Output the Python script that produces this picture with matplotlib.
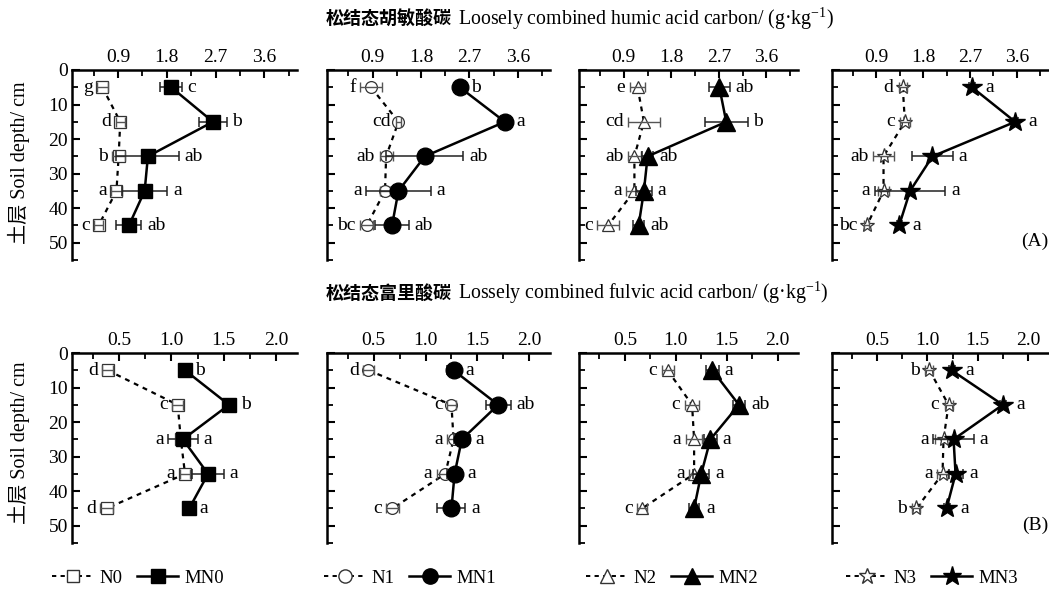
import matplotlib
matplotlib.use("Agg")
import matplotlib.pyplot as plt
from matplotlib.lines import Line2D
from matplotlib.ticker import MultipleLocator
import numpy as np

plt.rcParams['font.family'] = ['Liberation Serif', 'Noto Sans CJK SC']
plt.rcParams['mathtext.fontset'] = 'custom'
plt.rcParams['mathtext.rm'] = 'Liberation Serif'
plt.rcParams['mathtext.it'] = 'Liberation Serif:italic'

depth = [5, 15, 25, 35, 45]

# Humic acid carbon (g/kg)
N0_h = [0.61, 0.94, 0.91, 0.87, 0.54]; N0_h_err = [0.10, 0.08, 0.12, 0.10, 0.08]
MN0_h = [1.88, 2.65, 1.45, 1.39, 1.10]; MN0_h_err = [0.20, 0.25, 0.58, 0.42, 0.23]
N1_h = [0.87, 1.38, 1.15, 1.13, 0.79]; N1_h_err = [0.20, 0.05, 0.12, 0.10, 0.12]
MN1_h = [2.52, 3.36, 1.87, 1.38, 1.26]; MN1_h_err = [0.05, 0.05, 0.72, 0.60, 0.31]
N2_h = [1.16, 1.28, 1.10, 1.10, 0.60]; N2_h_err = [0.15, 0.30, 0.12, 0.15, 0.20]
MN2_h = [2.71, 2.84, 1.35, 1.28, 1.18]; MN2_h_err = [0.20, 0.41, 0.10, 0.15, 0.10]
N3_h = [1.41, 1.45, 1.04, 1.04, 0.72]; N3_h_err = [0.08, 0.10, 0.20, 0.10, 0.05]
MN3_h = [2.74, 3.57, 1.98, 1.55, 1.34]; MN3_h_err = [0.05, 0.05, 0.40, 0.68, 0.05]

# Fulvic acid carbon (g/kg)
N0_f = [0.39, 1.06, 1.09, 1.13, 0.38]; N0_f_err = [0.05, 0.05, 0.05, 0.05, 0.06]
MN0_f = [1.13, 1.55, 1.11, 1.35, 1.17]; MN0_f_err = [0.03, 0.06, 0.14, 0.15, 0.03]
N1_f = [0.45, 1.25, 1.27, 1.19, 0.68]; N1_f_err = [0.05, 0.04, 0.06, 0.08, 0.06]
MN1_f = [1.27, 1.70, 1.35, 1.28, 1.25]; MN1_f_err = [0.06, 0.12, 0.08, 0.07, 0.135]
N2_f = [0.92, 1.16, 1.18, 1.18, 0.67]; N2_f_err = [0.06, 0.07, 0.08, 0.05, 0.05]
MN2_f = [1.36, 1.62, 1.34, 1.25, 1.18]; MN2_f_err = [0.06, 0.06, 0.06, 0.08, 0.05]
N3_f = [1.02, 1.21, 1.16, 1.15, 0.89]; N3_f_err = [0.04, 0.04, 0.08, 0.05, 0.04]
MN3_f = [1.24, 1.75, 1.26, 1.28, 1.19]; MN3_f_err = [0.03, 0.03, 0.20, 0.07, 0.03]

# significance letters
N_h_let = [['g', 'd', 'b', 'a', 'c'], ['f', 'cd', 'ab', 'a', 'bc'],
           ['e', 'cd', 'ab', 'a', 'c'], ['d', 'c', 'ab', 'a', 'bc']]
MN_h_let = [['c', 'b', 'ab', 'a', 'ab'], ['b', 'a', 'ab', 'a', 'ab'],
            ['ab', 'b', 'ab', 'a', 'ab'], ['a', 'a', 'a', 'a', 'a']]
N_f_let = [['d', 'c', 'a', 'a', 'd'], ['d', 'c', 'a', 'a', 'c'],
           ['c', 'c', 'a', 'a', 'c'], ['b', 'c', 'a', 'a', 'b']]
MN_f_let = [['b', 'b', 'a', 'a', 'a'], ['a', 'ab', 'a', 'a', 'a'],
            ['a', 'ab', 'a', 'a', 'a'], ['a', 'a', 'a', 'a', 'a']]

N_names = ['N0', 'N1', 'N2', 'N3']
MN_names = ['MN0', 'MN1', 'MN2', 'MN3']
markers = ['s', 'o', '^', '*']

top_ticks = [0.9, 1.8, 2.7, 3.6]
bot_ticks = [0.5, 1.0, 1.5, 2.0]
y_ticks = [0, 10, 20, 30, 40, 50]

humic = [(N0_h, N0_h_err, MN0_h, MN0_h_err), (N1_h, N1_h_err, MN1_h, MN1_h_err),
         (N2_h, N2_h_err, MN2_h, MN2_h_err), (N3_h, N3_h_err, MN3_h, MN3_h_err)]
fulvic = [(N0_f, N0_f_err, MN0_f, MN0_f_err), (N1_f, N1_f_err, MN1_f, MN1_f_err),
          (N2_f, N2_f_err, MN2_f, MN2_f_err), (N3_f, N3_f_err, MN3_f, MN3_f_err)]

W, H = 1049, 594
fig = plt.figure(figsize=(W / 100, H / 100), dpi=100)

lefts = [72, 327, 579, 832]
widths = [225, 223, 219, 216]
tops = [70, 353]
ht = 190

nsize = [8, 8.5, 9, 11]
msize = [10.5, 12, 13, 15]
dashes = (0, (2.2, 2.2))
PT = 100 / 72.0

for row, (dataset, xlim, ticks, Nl, MNl) in enumerate([
        (humic, (0.05, 4.2), top_ticks, N_h_let, MN_h_let),
        (fulvic, (0.05, 2.2), bot_ticks, N_f_let, MN_f_let)]):
    for col in range(4):
        L = lefts[col]; T = tops[row]; Wd = widths[col]
        ax = fig.add_axes([L / W, 1 - (T + ht) / H, Wd / W, ht / H])
        scale = Wd / (xlim[1] - xlim[0])  # px per unit
        nv, ne, mv, me = dataset[col]
        m = markers[col]
        ax.plot(nv, depth, linestyle=dashes, color='black', lw=1.6, marker=m,
                markersize=nsize[col], markerfacecolor='white', markeredgecolor='#333333',
                markeredgewidth=0.9, zorder=3)
        ax.errorbar(nv, depth, xerr=ne, fmt='none', ecolor='#555555', elinewidth=1.0,
                    capsize=3.5, capthick=1.0, zorder=3.5)
        ax.errorbar(mv, depth, xerr=me, fmt='none', ecolor='#222222', elinewidth=1.1,
                    capsize=3.5, capthick=1.1, zorder=4)
        ax.plot(mv, depth, linestyle='-', color='black', lw=1.8, marker=m,
                markersize=msize[col], markerfacecolor='black', markeredgecolor='black', zorder=5)
        rn = nsize[col] * PT / 2 / scale
        rm = msize[col] * PT / 2 / scale
        for i in range(5):
            left_n = nv[i] - max(ne[i] + 2.5 / scale, rn)
            left_m = mv[i] - max(me[i] + 2.5 / scale, rm)
            xl = min(left_n, left_m) - 2 / scale
            ax.text(xl, depth[i], Nl[col][i], ha='right', va='center', fontsize=14)
            xr = mv[i] + max(me[i] + 2.5 / scale, rm) + 3 / scale
            ax.text(xr, depth[i], MNl[col][i], ha='left', va='center', fontsize=14)
        ax.set_xlim(*xlim)
        ax.set_ylim(55, 0)
        ax.xaxis.tick_top()
        ax.set_xticks(ticks)
        ax.set_xticklabels([f'{t:.1f}' for t in ticks])
        ax.xaxis.set_minor_locator(MultipleLocator(ticks[0] / 2 if row == 0 else 0.25))
        ax.set_yticks(y_ticks)
        ax.yaxis.set_minor_locator(MultipleLocator(5))
        ax.tick_params(axis='both', which='major', direction='in', length=6, width=1.5,
                       labelsize=14, pad=3)
        ax.tick_params(axis='both', which='minor', direction='in', length=4, width=1.3)
        if col > 0:
            ax.set_yticklabels([])
        for s in ['right', 'bottom']:
            ax.spines[s].set_visible(False)
        for s in ['left', 'top']:
            ax.spines[s].set_linewidth(1.8)
        ax.set_facecolor('none')
        if col == 3:
            ax.text(1.0, 0.05, '(A)' if row == 0 else '(B)', transform=ax.transAxes,
                    ha='right', va='bottom', fontsize=14)

# titles
fig.text(452 / W, 1 - 19 / H, '松结态胡敏酸碳', ha='right', va='center', fontsize=13,
         fontweight='bold', family='Noto Sans CJK SC')
fig.text(458 / W, 1 - 19 / H, r'Loosely combined humic acid carbon/ (g·kg$^{-1}$)',
         ha='left', va='center', fontsize=14.3)
fig.text(452 / W, 1 - 293 / H, '松结态富里酸碳', ha='right', va='center', fontsize=13,
         fontweight='bold', family='Noto Sans CJK SC')
fig.text(458 / W, 1 - 293 / H, r'Lossely combined fulvic acid carbon/ (g·kg$^{-1}$)',
         ha='left', va='center', fontsize=14.3)

# y labels
for yc in [163, 443]:
    fig.text(19 / W, 1 - yc / H, '土层 Soil depth/ cm', rotation=90, ha='center', va='center',
             fontsize=14.5)

# legends
centers = [138, 410, 672, 932]
for col in range(4):
    m = markers[col]
    hN = Line2D([], [], linestyle=dashes, color='black', lw=1.4, marker=m,
                markersize=nsize[col] + 1, markerfacecolor='white', markeredgecolor='#333333')
    hM = Line2D([], [], linestyle='-', color='black', lw=1.8, marker=m,
                markersize=msize[col] - 1, markerfacecolor='black', markeredgecolor='black')
    fig.legend([hN, hM], [N_names[col], MN_names[col]], loc='center',
               bbox_to_anchor=(centers[col] / W, 1 - 578 / H), ncol=2, frameon=False,
               fontsize=13.5, handlelength=2.2, handletextpad=0.3, columnspacing=0.8,
               borderaxespad=0)

fig.savefig('out.png', dpi=100)
